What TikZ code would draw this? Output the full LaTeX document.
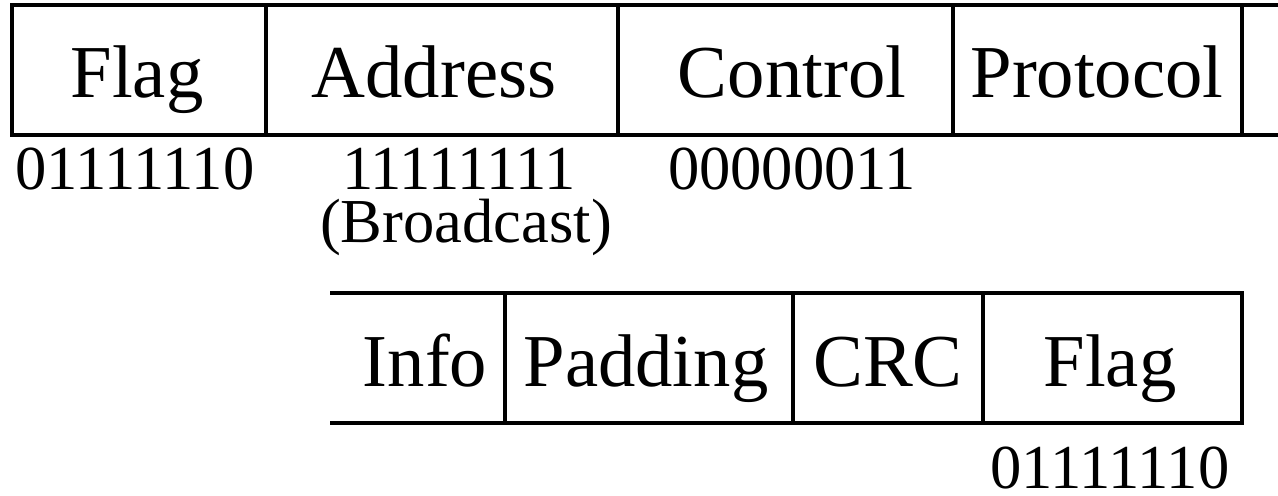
\documentclass[tikz,border=0pt]{standalone}
\usepackage{fontspec}
\setmainfont{Liberation Serif}
\usetikzlibrary{positioning}

\begin{document}
\begin{tikzpicture}[x=0.02cm, y=-0.02cm,
  field/.style={anchor=base, inner sep=0pt, font=\fontsize{42.5}{46}\selectfont},
  bits/.style={anchor=base, inner sep=0pt, font=\fontsize{35.6}{40}\selectfont},
  frame/.style={line width=2.3pt}
]
\useasboundingbox (0,0) rectangle (1278,496);

% first line of the frame
\draw[frame] (1278,5) -- (12,5) -- (12,135) -- (1278,135);
\foreach \x in {266,618,953,1242}
  \draw[frame] (\x,5) -- (\x,135);

\node[field] (flag1) at (137,98) {Flag};
\node[field] (addr) at (434,98) {Address};
\node[field] (ctrl) at (792,98) {Control};
\node[field] (proto) at (1097,98) {Protocol};

\node[bits] (flagbits1) at (135,190) {01111110};
\node[bits] (addrbits) at (459,190) {11111111};
\node[bits] (bcast) at (466,243) {(Broadcast)};
\node[bits] (ctrlbits) at (792,190) {00000011};

% second line of the frame
\draw[frame] (330,293) -- (1242,293) -- (1242,423) -- (330,423);
\foreach \x in {505,793,983}
  \draw[frame] (\x,293) -- (\x,423);

\node[field] (info) at (425,387) {Info};
\node[field] (pad) at (646,387) {Padding};
\node[field] (crc) at (888,387) {CRC};
\node[field] (flag2) at (1110,387) {Flag};

\node[bits] (flagbits2) at (1110,488) {01111110};
\end{tikzpicture}
\end{document}
